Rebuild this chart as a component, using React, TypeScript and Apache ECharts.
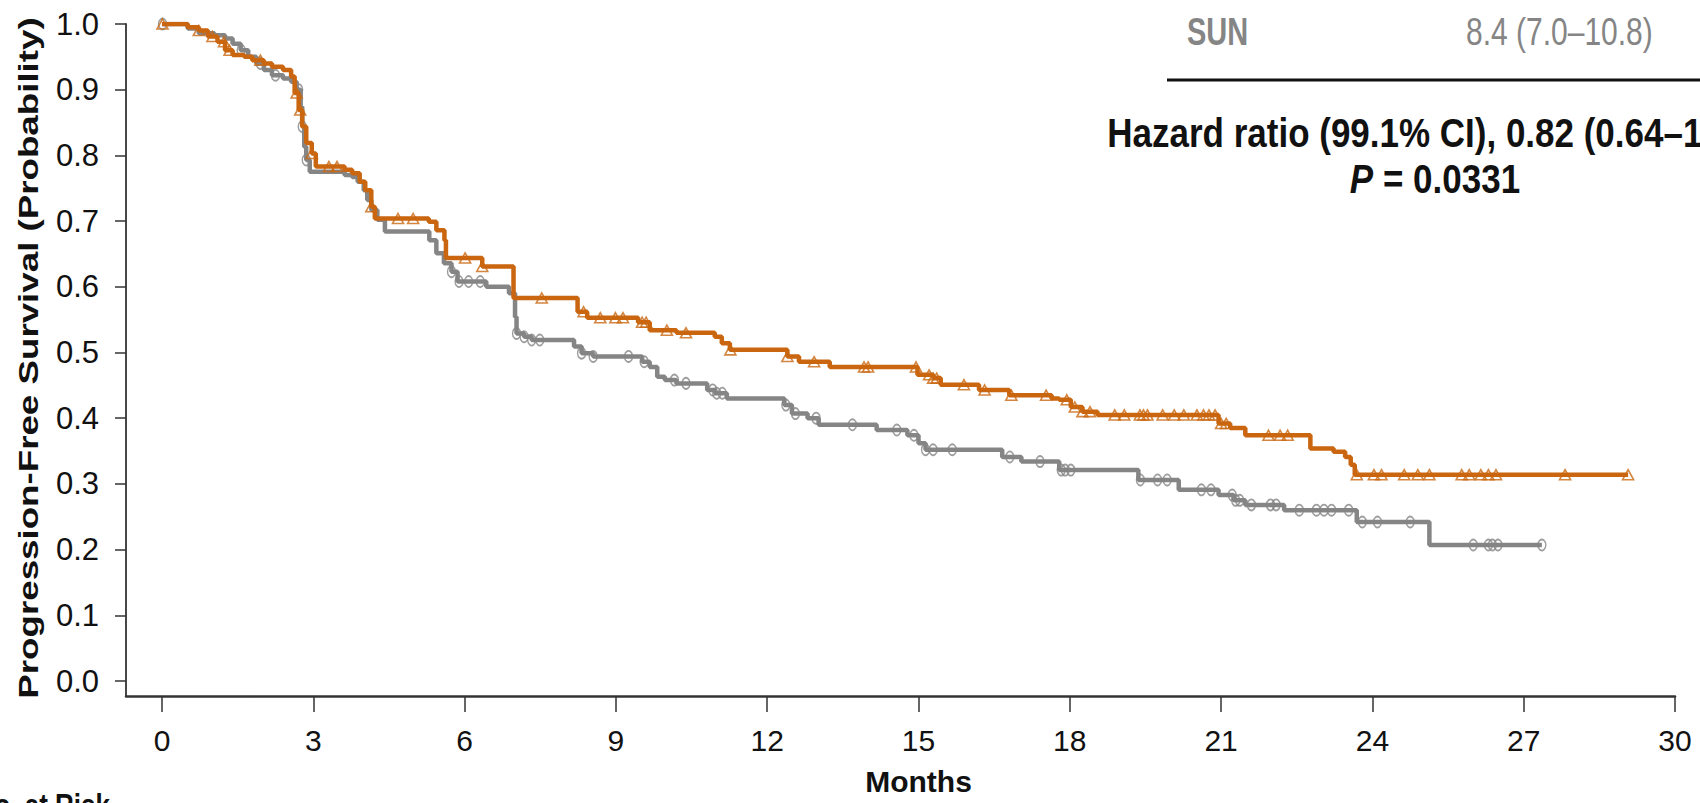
import React, { useEffect, useRef } from "react";
import * as echarts from "echarts";

// ---- data (months, survival probability) ----
const nivoTimes = [0, 0.51, 0.73, 0.91, 1.1, 1.25, 1.4, 1.63, 1.79, 2.02, 2.18, 2.4, 2.56, 2.63, 2.71, 2.78, 2.86, 2.97, 3.05, 3.62, 3.77, 3.92, 4.03, 4.15, 4.22, 5.29, 5.44, 5.6, 5.63, 6.35, 6.97, 8.24, 8.43, 9.44, 9.67, 10.2, 10.96, 11.1, 11.26, 12.4, 12.63, 13.24, 14.98, 15.29, 15.44, 16.2, 16.8, 17.64, 17.79, 18.02, 18.25, 18.55, 20.95, 21.18, 21.48, 22.77, 23.23, 23.46, 23.57, 23.65, 29.07];
const nivoSurv = [1.0, 0.995, 0.99, 0.981, 0.973, 0.96, 0.953, 0.95, 0.945, 0.94, 0.935, 0.93, 0.92, 0.895, 0.869, 0.844, 0.819, 0.803, 0.783, 0.778, 0.773, 0.76, 0.747, 0.722, 0.704, 0.699, 0.686, 0.671, 0.644, 0.631, 0.583, 0.562, 0.553, 0.546, 0.534, 0.53, 0.524, 0.514, 0.504, 0.494, 0.486, 0.478, 0.466, 0.461, 0.451, 0.443, 0.435, 0.43, 0.428, 0.417, 0.41, 0.405, 0.392, 0.385, 0.374, 0.354, 0.349, 0.341, 0.329, 0.314, 0.314];
const nivoCensor = [0.01, 0.73, 1.0, 1.23, 1.34, 1.95, 2.67, 2.74, 2.97, 3.31, 3.47, 4.15, 4.68, 4.98, 6.01, 6.35, 7.53, 8.36, 8.69, 8.99, 9.14, 9.52, 9.6, 10.01, 10.39, 11.27, 12.4, 12.93, 13.92, 14.0, 14.95, 15.21, 15.29, 15.36, 15.9, 16.31, 16.84, 17.53, 17.94, 18.1, 18.25, 18.4, 18.89, 19.08, 19.39, 19.46, 19.54, 19.84, 20.07, 20.26, 20.52, 20.65, 20.76, 20.88, 21.0, 21.1, 21.94, 22.17, 22.32, 23.69, 24.03, 24.18, 24.63, 24.9, 25.13, 25.77, 25.92, 26.15, 26.3, 26.45, 27.82, 29.07];

const sunTimes = [0, 0.51, 0.73, 1.04, 1.25, 1.4, 1.56, 1.71, 1.87, 2.02, 2.18, 2.4, 2.56, 2.67, 2.75, 2.78, 2.82, 2.86, 2.93, 3.62, 3.77, 3.88, 4.0, 4.07, 4.15, 4.27, 4.42, 5.3, 5.44, 5.59, 5.74, 5.86, 6.43, 6.88, 7.0, 7.03, 7.18, 7.33, 8.17, 8.32, 8.55, 9.52, 9.67, 9.82, 9.97, 10.2, 10.81, 10.97, 11.2, 12.34, 12.49, 12.8, 13.02, 14.17, 14.78, 15.0, 15.14, 16.66, 17.04, 17.79, 19.36, 20.16, 20.95, 21.25, 21.48, 22.25, 23.69, 25.13, 27.36];
const sunSurv = [1.0, 0.993, 0.986, 0.983, 0.978, 0.97, 0.96, 0.95, 0.94, 0.93, 0.922, 0.917, 0.912, 0.9, 0.874, 0.844, 0.813, 0.793, 0.775, 0.77, 0.767, 0.76, 0.747, 0.732, 0.717, 0.702, 0.684, 0.671, 0.651, 0.636, 0.623, 0.608, 0.6, 0.59, 0.554, 0.529, 0.524, 0.519, 0.509, 0.499, 0.494, 0.486, 0.478, 0.463, 0.458, 0.453, 0.443, 0.438, 0.43, 0.42, 0.407, 0.4, 0.39, 0.382, 0.374, 0.362, 0.352, 0.341, 0.334, 0.321, 0.306, 0.291, 0.283, 0.275, 0.268, 0.26, 0.242, 0.207, 0.207];
const sunCensor = [0.01, 1.57, 1.95, 2.25, 2.71, 2.78, 2.86, 5.74, 5.89, 6.08, 6.31, 7.03, 7.18, 7.33, 7.49, 8.32, 8.55, 9.25, 9.56, 10.16, 10.39, 10.92, 11.0, 11.11, 12.37, 12.56, 12.97, 13.69, 14.57, 14.91, 15.14, 15.29, 15.67, 16.81, 17.41, 17.83, 17.91, 18.02, 19.4, 19.74, 19.93, 20.61, 20.8, 21.22, 21.29, 21.37, 21.6, 21.98, 22.09, 22.55, 22.89, 23.04, 23.19, 23.53, 23.8, 24.1, 24.75, 26.0, 26.3, 26.38, 26.49, 27.36];

const seriesNames = ["NIVO + IPI", "SUN"];
const yAxisTitle = "Progression-Free Survival (Probability)";
const xAxisTitle = "Months";
const sunLabel = "SUN";
const sunMedian = "8.4 (7.0\u201310.8)";
const hazardText = "Hazard ratio (99.1% CI), 0.82 (0.64\u20131.05)";
const pValue = "0.0331";
const atRiskTitle = "No. at Risk";

const ORANGE = "#C9660F";
const GREY = "#858585";
const NARROW = "'Liberation Sans Narrow', 'Arial Narrow', 'Liberation Sans', Arial, sans-serif";
const SANS = "'Liberation Sans', Arial, sans-serif";

function survAt(times: number[], surv: number[], t: number) {
  let v = surv[0];
  for (let i = 0; i < times.length; i++) {
    if (times[i] <= t) v = surv[i];
  }
  return v;
}

export default function App() {
  const ref = useRef<HTMLDivElement>(null);
  useEffect(() => {
    if (!ref.current) return;
    const chart = echarts.init(ref.current, undefined, { renderer: "svg" });
    const nivoLine = nivoTimes.map((t, i) => [t, nivoSurv[i]]);
    const sunLine = sunTimes.map((t, i) => [t, sunSurv[i]]);
    const nivoMarks = nivoCensor.map((t) => [t, survAt(nivoTimes, nivoSurv, t)]);
    const sunMarks = sunCensor.map((t) => [t, survAt(sunTimes, sunSurv, t)]);

    chart.setOption({
      animation: false,
      backgroundColor: "#ffffff",
      grid: [
        { left: 162, top: 24, width: 1513, height: 657, containLabel: false },
        { left: 126, top: 24, width: 1549, height: 672, containLabel: false },
      ],
      xAxis: [
        {
          gridIndex: 0,
          type: "value",
          min: 0,
          max: 30,
          interval: 3,
          offset: 15,
          axisLine: { show: false, onZero: false },
          axisTick: { show: true, length: 16, lineStyle: { color: "#333", width: 1.5 } },
          axisLabel: { margin: 29, fontSize: 30, color: "#111", fontFamily: NARROW },
          splitLine: { show: false },
          name: xAxisTitle,
          nameLocation: "middle",
          nameGap: 70,
          nameTextStyle: { fontSize: 30, fontWeight: "bold", color: "#111", fontFamily: NARROW },
        },
        {
          gridIndex: 1,
          type: "value",
          min: 0,
          max: 1,
          axisLine: { show: true, onZero: false, lineStyle: { color: "#333", width: 2.5 } },
          axisTick: { show: false },
          axisLabel: { show: false },
          splitLine: { show: false },
        },
      ],
      yAxis: [
        {
          gridIndex: 0,
          type: "value",
          min: 0,
          max: 1,
          interval: 0.1,
          offset: 36,
          axisLine: { show: false, onZero: false },
          axisTick: { show: true, length: 11, lineStyle: { color: "#333", width: 1.5 } },
          axisLabel: {
            margin: 27,
            fontSize: 31,
            color: "#111",
            fontFamily: NARROW,
            formatter: (v: number) => v.toFixed(1),
          },
          splitLine: { show: false },
        },
        {
          gridIndex: 1,
          type: "value",
          min: 0,
          max: 1,
          axisLine: { show: true, onZero: false, lineStyle: { color: "#333", width: 1.8 } },
          axisTick: { show: false },
          axisLabel: { show: false },
          splitLine: { show: false },
        },
      ],
      series: [
        {
          name: seriesNames[1],
          type: "line",
          step: "end",
          xAxisIndex: 0,
          yAxisIndex: 0,
          data: sunLine,
          showSymbol: false,
          lineStyle: { color: GREY, width: 4.5 },
          z: 2,
        },
        {
          name: seriesNames[1] + " censored",
          type: "scatter",
          xAxisIndex: 0,
          yAxisIndex: 0,
          data: sunMarks,
          symbol: "circle",
          symbolSize: [8, 11],
          itemStyle: { color: "rgba(255,255,255,0)", borderColor: GREY, borderWidth: 1.6 },
          z: 3,
        },
        {
          name: seriesNames[0],
          type: "line",
          step: "end",
          xAxisIndex: 0,
          yAxisIndex: 0,
          data: nivoLine,
          showSymbol: false,
          lineStyle: { color: ORANGE, width: 4.5 },
          z: 4,
        },
        {
          name: seriesNames[0] + " censored",
          type: "scatter",
          xAxisIndex: 0,
          yAxisIndex: 0,
          data: nivoMarks,
          symbol: "triangle",
          symbolSize: [11, 10],
          itemStyle: { color: "rgba(255,255,255,0)", borderColor: ORANGE, borderWidth: 1.6 },
          z: 5,
        },
      ],
      graphic: [
        {
          type: "text",
          x: 29,
          y: 358,
          rotation: Math.PI / 2,
          scaleX: 1.36,
          style: {
            text: yAxisTitle,
            fontSize: 27,
            fontWeight: "bold",
            fontFamily: SANS,
            fill: "#111",
            align: "center",
            verticalAlign: "middle",
            textAlign: "center",
            textVerticalAlign: "middle",
          },
        },
        {
          type: "text",
          x: 1187,
          y: 31,
          scaleY: 1.35,
          style: {
            text: sunLabel,
            fontSize: 29,
            fontWeight: "bold",
            fontFamily: SANS,
            fill: GREY,
            align: "left",
            verticalAlign: "middle",
            textAlign: "left",
            textVerticalAlign: "middle",
          },
        },
        {
          type: "text",
          x: 1466,
          y: 32,
          scaleY: 1.3,
          style: {
            text: sunMedian,
            fontSize: 30,
            fontFamily: SANS,
            fill: GREY,
            align: "left",
            verticalAlign: "middle",
            textAlign: "left",
            textVerticalAlign: "middle",
          },
        },
        {
          type: "line",
          shape: { x1: 1167, y1: 80, x2: 1700, y2: 80 },
          style: { stroke: "#111", lineWidth: 3 },
        },
        {
          type: "text",
          x: 1435,
          y: 133,
          scaleY: 1.15,
          style: {
            text: hazardText,
            fontSize: 35,
            fontWeight: "bold",
            fontFamily: SANS,
            fill: "#111",
            align: "center",
            verticalAlign: "middle",
            textAlign: "center",
            textVerticalAlign: "middle",
          },
        },
        {
          type: "text",
          x: 1435,
          y: 179,
          scaleY: 1.15,
          style: {
            text: "{i|P}{n| = " + pValue + "}",
            fontSize: 35,
            fontWeight: "bold",
            fontFamily: SANS,
            fill: "#111",
            align: "center",
            verticalAlign: "middle",
            textAlign: "center",
            textVerticalAlign: "middle",
            rich: {
              i: { fontSize: 35, fontWeight: "bold", fontStyle: "italic", fontFamily: SANS, fill: "#111" },
              n: { fontSize: 35, fontWeight: "bold", fontFamily: SANS, fill: "#111" },
            },
          },
        },
        {
          type: "text",
          x: 110,
          y: 789,
          scaleY: 1.25,
          style: {
            text: atRiskTitle,
            fontSize: 26,
            fontWeight: "bold",
            fontFamily: SANS,
            fill: "#111",
            align: "right",
            verticalAlign: "top",
            textAlign: "right",
            textVerticalAlign: "top",
          },
        },
      ],
    });
    return () => chart.dispose();
  }, []);
  return (
    <div
      ref={ref}
      style={{ position: "fixed", left: 0, top: 0, width: 1700, height: 803, background: "#fff" }}
    />
  );
}
